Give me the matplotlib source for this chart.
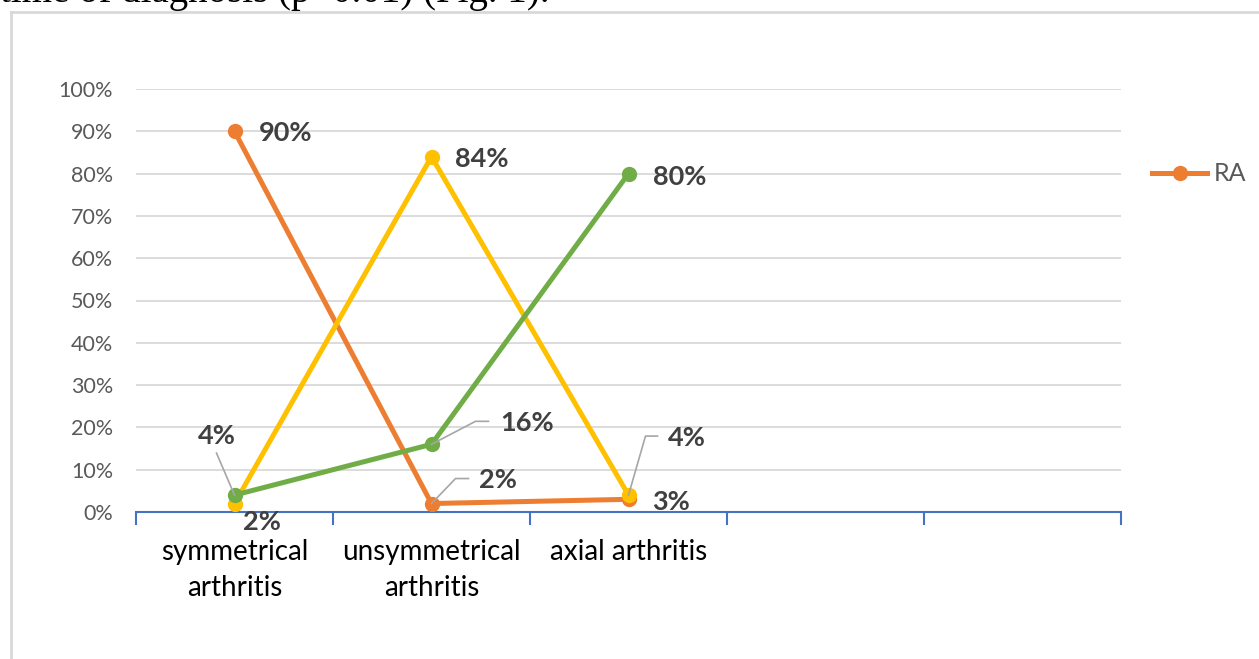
import matplotlib.pyplot as plt
import matplotlib.transforms as mtransforms
from matplotlib.lines import Line2D

# Дані
categories = ['symmetrical\narthritis', 'unsymmetrical\narthritis', 'axial arthritis', '', '']
ra = [90, 2, 3]
yellow_series = [2, 84, 4]
green_series = [4, 16, 80]
y_ticks = [0, 10, 20, 30, 40, 50, 60, 70, 80, 90, 100]

orange = '#ED7D31'
yellow = '#FFC000'
green = '#70AD47'
label_color = '#404040'
leader_color = '#A6A6A6'

plt.rcParams['font.family'] = ['Lato', 'DejaVu Sans']

fig = plt.figure(figsize=(12.59, 6.59), dpi=100)
ax = fig.add_axes([136 / 1259, 1 - 512 / 659, 985 / 1259, 423 / 659])

# Текст документа над графіком (обрізаний)
fig.text(0.0, 1 - 2 / 659, 'time of diagnosis (p<0.01) (Fig. 1).',
         family='Liberation Serif', fontsize=28, color='black',
         ha='left', va='baseline')

# Рамка області графіка
fig.add_artist(Line2D([11 / 1259, 11 / 1259], [0, 1 - 12 / 659],
                      transform=fig.transFigure, color='#D9D9D9', lw=2))
fig.add_artist(Line2D([11 / 1259, 1], [1 - 12 / 659, 1 - 12 / 659],
                      transform=fig.transFigure, color='#D9D9D9', lw=2))

x = [0, 1, 2]
for vals, col in [(ra, orange), (yellow_series, yellow), (green_series, green)]:
    ax.plot(x, vals, color=col, lw=3.6, marker='o', markersize=10,
            solid_capstyle='round', zorder=3)

ax.set_xlim(-0.5, len(categories) - 0.5)
ax.set_ylim(0, 100)
ax.set_yticks(y_ticks)
ax.set_yticklabels([f'{v}%' for v in y_ticks])
ax.yaxis.grid(True, color='#D9D9D9', lw=1.3)
ax.set_axisbelow(True)

ax.set_xticks(range(len(categories)))
ax.set_xticklabels(categories, fontsize=20, color='black', linespacing=1.45)
ax.set_xticks([i - 0.5 for i in range(len(categories) + 1)], minor=True)
ax.tick_params(axis='x', which='major', length=0, pad=19.5)
ax.tick_params(axis='x', which='minor', length=9, width=1.5, color='#4472C4')
ax.tick_params(axis='y', length=0, labelsize=15.5, labelcolor='#595959', pad=16.5)

for s in ['top', 'right', 'left']:
    ax.spines[s].set_visible(False)
ax.spines['bottom'].set_color('#4472C4')
ax.spines['bottom'].set_linewidth(1.5)


def label(xi, yi, text, dx, dy, leader=None):
    tr = ax.transData + mtransforms.ScaledTranslation(dx / 100, dy / 100, fig.dpi_scale_trans)
    ax.text(xi, yi, text, transform=tr, ha='left', va='center',
            fontsize=19.5, fontweight='bold', color=label_color, zorder=5)
    if leader:
        disp = ax.transData.transform((xi, yi))
        xs = [disp[0] + px for px, py in leader]
        ys = [disp[1] + py for px, py in leader]
        ax.add_line(Line2D(xs, ys, transform=None, color=leader_color, lw=1.2, zorder=4))


# Підписи даних
label(0, ra[0], '90%', 24, -2)
label(1, ra[1], '2%', 47, 24, [(0, 0), (24, 25), (37, 25)])
label(2, ra[2], '3%', 24, -3)

label(0, yellow_series[0], '2%', 9, -18)
label(1, yellow_series[1], '84%', 24, -2)
label(2, yellow_series[2], '4%', 39, 57, [(0, 0), (17, 59), (29, 59)])

label(0, green_series[0], '4%', -37, 59, [(0, 0), (-18, 42)])
label(1, green_series[1], '16%', 69, 21, [(0, 0), (44, 23), (57, 23)])
label(2, green_series[2], '80%', 24, -3)

leg = fig.legend(handles=[Line2D([], [], color=orange, lw=3.6, marker='o', markersize=10)],
                 labels=['RA'], loc='center left',
                 bbox_to_anchor=(1152 / 1259, 1 - 174 / 659),
                 frameon=False, fontsize=18, handlelength=2.2, handletextpad=0.25,
                 borderpad=0, borderaxespad=0)
for t in leg.get_texts():
    t.set_color('#595959')

plt.savefig('out.png', dpi=100)
